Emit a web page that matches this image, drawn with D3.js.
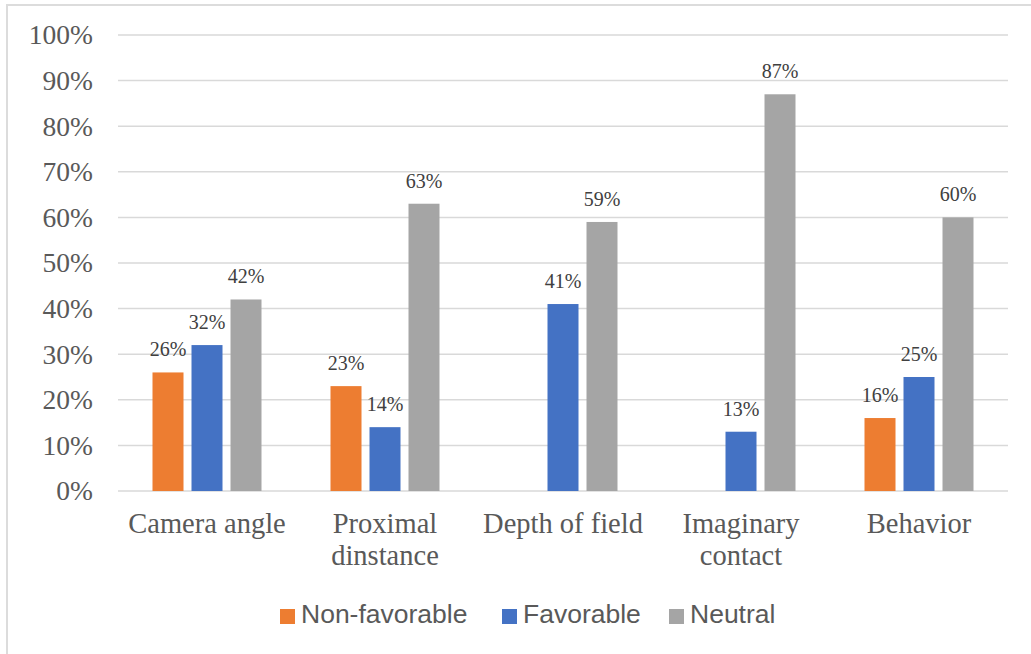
<!DOCTYPE html>
<html>
<head>
<meta charset="utf-8">
<script src="https://cdn.jsdelivr.net/npm/d3@7"></script>
<style>
  html, body { margin: 0; padding: 0; background: #fff; }
  svg { display: block; }
</style>
</head>
<body>
<div id="chart"></div>
<script>
// Categories and series (share of responses)
const categories = [["Camera angle"], ["Proximal", "dinstance"], ["Depth of field"], ["Imaginary", "contact"], ["Behavior"]];
const seriesNames = ["Non-favorable", "Favorable", "Neutral"];
const nonFavorable = [0.26, 0.23, null, null, 0.16];
const favorable = [0.32, 0.14, 0.41, 0.13, 0.25];
const neutral = [0.42, 0.63, 0.59, 0.87, 0.60];
const yTicks = [0, 0.1, 0.2, 0.3, 0.4, 0.5, 0.6, 0.7, 0.8, 0.9, 1.0];

const colors = ["#ED7D31", "#4472C4", "#A5A5A5"];
const series = [nonFavorable, favorable, neutral];

const W = 1031, H = 654;
const plot = { left: 118, right: 1008, top: 35, bottom: 491 };
const serif = "'Liberation Serif', 'Times New Roman', serif";

const svg = d3.select("#chart").append("svg")
  .attr("width", W).attr("height", H);

// Outer frame (left and top edges visible)
svg.append("path")
  .attr("d", `M7,${H} L7,5 L${W},5`)
  .attr("fill", "none").attr("stroke", "#dcdcdc").attr("stroke-width", 2);

const x0 = d3.scaleBand()
  .domain(d3.range(categories.length))
  .range([plot.left, plot.right])
  .paddingInner(0).paddingOuter(0);

const y = d3.scaleLinear().domain([0, 1]).range([plot.bottom, plot.top]);

const groupStep = 39, barW = 31;

// Gridlines
svg.append("g").selectAll("line").data(yTicks).join("line")
  .attr("x1", plot.left).attr("x2", plot.right)
  .attr("y1", d => y(d)).attr("y2", d => y(d))
  .attr("stroke", "#d9d9d9").attr("stroke-width", 1.5);

// Y axis labels
const yAxis = d3.axisLeft(y).tickValues(yTicks).tickFormat(d3.format(".0%")).tickSize(0).tickPadding(0);
const ya = svg.append("g").attr("transform", `translate(${plot.left - 25},0)`).call(yAxis);
ya.attr("font-family", serif).attr("font-size", 27.5);
ya.select(".domain").remove();
ya.selectAll("text")
  .attr("font-family", serif)
  .attr("font-size", 27.5).attr("fill", "#595959");

// Bars and value labels
series.forEach((vals, si) => {
  const g = svg.append("g");
  const data = vals.map((v, i) => ({ v, i })).filter(d => d.v !== null);
  const cx = d => x0(d.i) + x0.bandwidth() / 2 + (si - 1) * groupStep;
  g.selectAll("rect").data(data).join("rect")
    .attr("x", d => cx(d) - barW / 2)
    .attr("width", barW)
    .attr("y", d => y(d.v))
    .attr("height", d => y(0) - y(d.v))
    .attr("fill", colors[si]);
  g.selectAll("text").data(data).join("text")
    .attr("x", d => cx(d))
    .attr("y", d => y(d.v) - 16)
    .attr("text-anchor", "middle")
    .attr("font-family", serif)
    .attr("font-size", 20).attr("fill", "#404040")
    .text(d => d3.format(".0%")(d.v));
});

// Category labels
const cat = svg.append("g");
categories.forEach((lines, i) => {
  const cxp = x0(i) + x0.bandwidth() / 2;
  const t = cat.append("text")
    .attr("x", cxp)
    .attr("y", 533)
    .attr("text-anchor", "middle")
    .attr("font-family", serif)
    .attr("font-size", 28.5).attr("fill", "#595959");
  lines.forEach((ln, k) => {
    t.append("tspan").attr("x", cxp).attr("dy", k === 0 ? 0 : 32).text(ln);
  });
});

// Legend
const legendX = [280, 502, 669];
const leg = svg.append("g");
seriesNames.forEach((name, i) => {
  leg.append("rect").attr("x", legendX[i]).attr("y", 609).attr("width", 15).attr("height", 15).attr("fill", colors[i]);
  leg.append("text").attr("x", legendX[i] + 21).attr("y", 623)
    .attr("font-family", "'Liberation Sans', Arial, sans-serif")
    .attr("font-size", 26.5).attr("fill", "#595959").text(name);
});
</script>
</body>
</html>
